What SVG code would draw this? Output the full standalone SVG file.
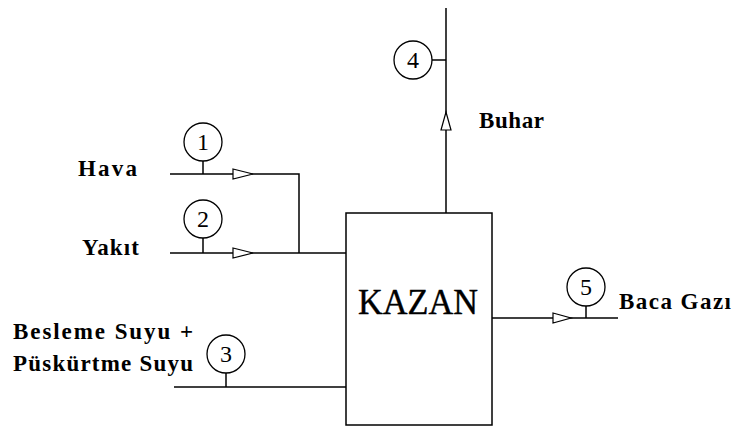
<svg xmlns="http://www.w3.org/2000/svg" width="732" height="426" viewBox="0 0 732 426">
<style>
.ln{stroke:#000;stroke-width:1.5;fill:none}
.ar{stroke:#000;stroke-width:1.2;fill:#fff}
.cir{stroke:#000;stroke-width:1.3;fill:#fff}
.lbl{font-family:"Liberation Serif","Times New Roman",serif;font-weight:bold;font-size:23px;fill:#000}
.num{font-family:"Liberation Serif","Times New Roman",serif;font-size:24px;fill:#000;text-anchor:middle}
.big{font-family:"Liberation Serif","Times New Roman",serif;font-size:35px;fill:#000;stroke:#000;stroke-width:0.4}
</style>
<rect width="732" height="426" fill="#fff"/>
<g id="connectors">
<path class="ln" d="M170 174 H299 V253"/>
<path class="ln" d="M170 253 H346"/>
<path class="ln" d="M174 387 H346"/>
<path class="ln" d="M446 213 V8"/>
<path class="ln" d="M492 318 H618"/>
<polygon class="ar" points="233,169 253,174 233,179"/>
<polygon class="ar" points="233,248 253,253 233,258"/>
<polygon class="ar" points="441,130 446,112 451,130"/>
<polygon class="ar" points="553,313 571,318 553,323"/>
</g>
<g id="kazan">
<rect class="ln" x="346" y="213" width="146" height="212"/>
<text class="big" x="358" y="314" textLength="120" lengthAdjust="spacingAndGlyphs">KAZAN</text>
</g>
<g id="s1">
<line class="ln" x1="203" y1="161" x2="203" y2="174"/>
<circle class="cir" cx="203" cy="142" r="19"/>
<text class="num" x="203" y="150">1</text>
</g>
<g id="s2">
<line class="ln" x1="203" y1="238" x2="203" y2="253"/>
<circle class="cir" cx="203" cy="219" r="19"/>
<text class="num" x="203" y="227">2</text>
</g>
<g id="s3">
<line class="ln" x1="226" y1="373" x2="226" y2="387"/>
<circle class="cir" cx="226" cy="354" r="19"/>
<text class="num" x="226" y="362">3</text>
</g>
<g id="s4">
<line class="ln" x1="432" y1="60" x2="446" y2="60"/>
<circle class="cir" cx="413" cy="60" r="19"/>
<text class="num" x="413" y="68">4</text>
</g>
<g id="s5">
<line class="ln" x1="586" y1="306" x2="586" y2="318"/>
<circle class="cir" cx="586" cy="287" r="19"/>
<text class="num" x="586" y="295">5</text>
</g>
<g id="labels">
<text class="lbl" x="78" y="176" textLength="59" lengthAdjust="spacing">Hava</text>
<text class="lbl" x="82" y="255" textLength="57" lengthAdjust="spacing">Yakıt</text>
<text class="lbl" x="479" y="128" textLength="65" lengthAdjust="spacing">Buhar</text>
<text class="lbl" x="619" y="309" textLength="112" lengthAdjust="spacing">Baca Gazı</text>
<text class="lbl" x="13" y="339" textLength="180" lengthAdjust="spacing">Besleme Suyu +</text>
<text class="lbl" x="13" y="371" textLength="180" lengthAdjust="spacing">Püskürtme Suyu</text>
</g>
</svg>
